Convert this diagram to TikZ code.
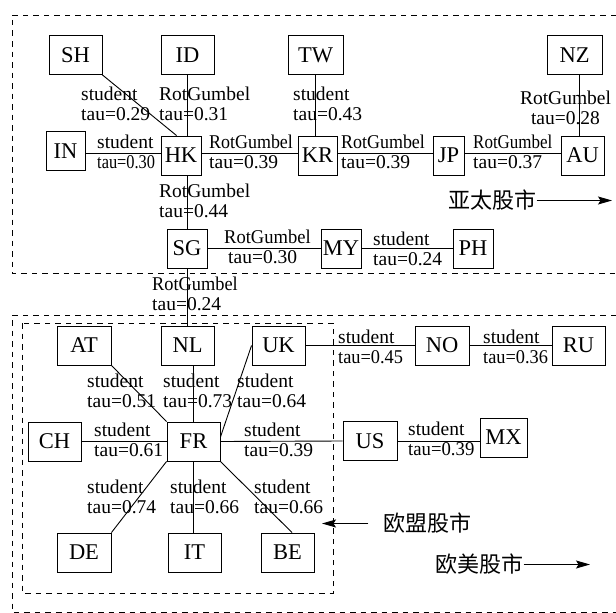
\documentclass[tikz,border=0pt]{standalone}
\usepackage{graphicx}
\usepackage{fontspec}
\setmainfont{Liberation Serif}
\newfontfamily\cjk{Noto Sans CJK SC}
\usetikzlibrary{arrows.meta}
\newcommand{\sx}[2]{\scalebox{#1}[1]{#2}}
\begin{document}
\begin{tikzpicture}[x=1pt,y=-1pt,
  mbox/.style={draw, line width=0.9pt, inner sep=0pt, minimum height=39pt,
    font=\fontsize{22.5}{22.5}\selectfont},
  lab/.style={inner sep=0pt, anchor=north west, align=left,
    font=\fontsize{19.5}{20}\selectfont},
  conn/.style={line width=0.9pt},
  grp/.style={line width=0.9pt, dash pattern=on 5.5pt off 5pt},
  arr/.style={line width=0.9pt, -{Stealth[length=14pt,width=8pt,inset=2.5pt]}},
  cn/.style={inner sep=0pt, font=\cjk\fontsize{22}{22}\selectfont}]
\useasboundingbox (0,0) rectangle (616,613);
% group frames
\draw[grp] (616,15) -- (12,15) -- (12,273) -- (616,273);
\draw[grp] (616,315) -- (12,315) -- (12,612) -- (616,612);
\draw[grp] (22,323) rectangle (333,593);
% Asia-Pacific nodes
\node[mbox, minimum width=53pt] (SH) at (75.5,55) {SH};
\node[mbox, minimum width=53pt] (ID) at (187.5,55) {ID};
\node[mbox, minimum width=55pt] (TW) at (315.5,55) {TW};
\node[mbox, minimum width=55pt] (NZ) at (574.5,55) {NZ};
\node[mbox, minimum width=39pt] (IN) at (65.5,151) {IN};
\node[mbox, minimum width=40pt] (HK) at (181,155.5) {HK};
\node[mbox, minimum width=39pt] (KR) at (317.5,155.5) {KR};
\node[mbox, minimum width=31pt] (JP) at (448.5,155.5) {JP};
\node[mbox, minimum width=43pt] (AU) at (582.5,155.5) {AU};
\node[mbox, minimum width=40pt] (SG) at (187,248.5) {SG};
\node[mbox, minimum width=40pt] (MY) at (341,248.5) {MY};
\node[mbox, minimum width=40pt] (PH) at (473,248.5) {PH};
% Europe / America nodes
\node[mbox, minimum width=54pt] (AT) at (84,345.5) {AT};
\node[mbox, minimum width=53pt] (NL) at (187.5,345.5) {NL};
\node[mbox, minimum width=53pt] (UK) at (278.5,345.5) {UK};
\node[mbox, minimum width=54pt] (NO) at (442,345.5) {NO};
\node[mbox, minimum width=53pt] (RU) at (578.5,345.5) {RU};
\node[mbox, minimum width=53pt] (CH) at (54.5,441.5) {CH};
\node[mbox, minimum width=53pt] (FR) at (193.5,441.5) {FR};
\node[mbox, minimum width=54pt] (US) at (370,441) {US};
\node[mbox, minimum width=47pt] (MX) at (503.5,437.5) {MX};
\node[mbox, minimum width=54pt] (DE) at (84,552.5) {DE};
\node[mbox, minimum width=53pt] (IT) at (194.5,552.5) {IT};
\node[mbox, minimum width=53pt] (BE) at (287.5,552.5) {BE};
% connectors
\draw[conn] (SH.south east) -- ([xshift=16pt]HK.north west);
\draw[conn] (ID.south) -- (ID.south |- HK.north);
\draw[conn] (TW.south) -- (TW.south |- KR.north);
\draw[conn] ([xshift=5pt]NZ.south) -- ([xshift=5pt]NZ.south |- AU.north);
\draw[conn] ([yshift=-2pt]IN.east) -- ([yshift=-2pt]IN.east -| HK.west);
\draw[conn] ([yshift=2pt]HK.east) -- ([yshift=2pt]HK.east -| KR.west);
\draw[conn] ([yshift=2pt]KR.east) -- ([yshift=2pt]KR.east -| JP.west);
\draw[conn] ([yshift=2pt]JP.east) -- ([yshift=2pt]JP.east -| AU.west);
\draw[conn] (SG.north) -- (SG.north |- HK.south);
\draw[conn] (SG.east) -- (MY.west);
\draw[conn] (MY.east) -- (PH.west);
\draw[conn] (SG.south) -- (SG.south |- NL.north);
\draw[conn] (AT.south east) -- (FR.north west);
\draw[conn] (FR.north) -- (FR.north |- NL.south);
\draw[conn] (UK.west) -- ([yshift=4.5pt]FR.east);
\draw[conn] (CH.east) -- (FR.west);
\draw[conn] (FR.east) -- (US.west);
\draw[conn] (UK.east) -- (NO.west);
\draw[conn] (NO.east) -- (RU.west);
\draw[conn] (US.east) -- (US.east -| MX.west);
\draw[conn] (FR.south west) -- (DE.north east);
\draw[conn] (FR.south) -- (FR.south |- IT.north);
\draw[conn] (FR.south east) -- ([xshift=4.5pt]BE.north);
% edge labels
\node[lab] (l1) at (81,86.8) {student\\tau=0.29};
\node[lab] (l2) at (159,86.8) {RotGumbel\\tau=0.31};
\node[lab] (l3) at (293,86.8) {student\\tau=0.43};
\node[lab, anchor=north, align=center] (l4) at (565.5,90.8) {RotGumbel\\tau=0.28};
\node[lab] (l5) at (97,134.8) {student\\\sx{0.84}{tau=0.30}};
\node[lab] (l6) at (209,134.8) {\sx{0.92}{RotGumbel}\\tau=0.39};
\node[lab] (l7) at (341,134.8) {\sx{0.92}{RotGumbel}\\tau=0.39};
\node[lab] (l8) at (473,134.8) {\sx{0.87}{RotGumbel}\\tau=0.37};
\node[lab] (l9) at (159,183.8) {RotGumbel\\tau=0.44};
\node[lab] (l10) at (224,229.8) {\sx{0.95}{RotGumbel}\\\hspace*{4pt}tau=0.30};
\node[lab] (l11) at (373,231.8) {student\\tau=0.24};
\node[lab] (l12) at (152,276.8) {\sx{0.94}{RotGumbel}\\tau=0.24};
\node[lab] (l13) at (87,373.8) {student\\tau=0.51};
\node[lab] (l14) at (163,373.8) {student\\tau=0.73};
\node[lab] (l15) at (237,373.8) {student\\tau=0.64};
\node[lab] (l16) at (94,422.8) {student\\tau=0.61};
\node[lab] (l17) at (244,422.8) {student\\tau=0.39};
\node[lab] (l18) at (338,329.8) {student\\\sx{0.94}{tau=0.45}};
\node[lab] (l19) at (483,329.8) {student\\\sx{0.94}{tau=0.36}};
\node[lab] (l20) at (408,421.8) {student\\\sx{0.96}{tau=0.39}};
\node[lab] (l21) at (87,479.8) {student\\tau=0.74};
\node[lab] (l22) at (170,479.8) {student\\tau=0.66};
\node[lab] (l23) at (254,479.8) {student\\tau=0.66};
% group captions and arrows
\node[cn] (ap) at (492.5,200.5) {亚太股市};
\coordinate (aptip) at (612,200);
\draw[arr] (ap.east) -- (ap.east -| aptip);
\node[cn] (eu) at (427.5,523.5) {欧盟股市};
\coordinate (eutip) at (337,523);
\draw[arr] ([xshift=-15pt]eu.west) -- ([xshift=-15pt]eu.west -| eutip);
\node[cn] (ea) at (479.5,564.5) {欧美股市};
\coordinate (eatip) at (590,566);
\draw[arr] (ea.east) -- (ea.east -| eatip);
\end{tikzpicture}
\end{document}
